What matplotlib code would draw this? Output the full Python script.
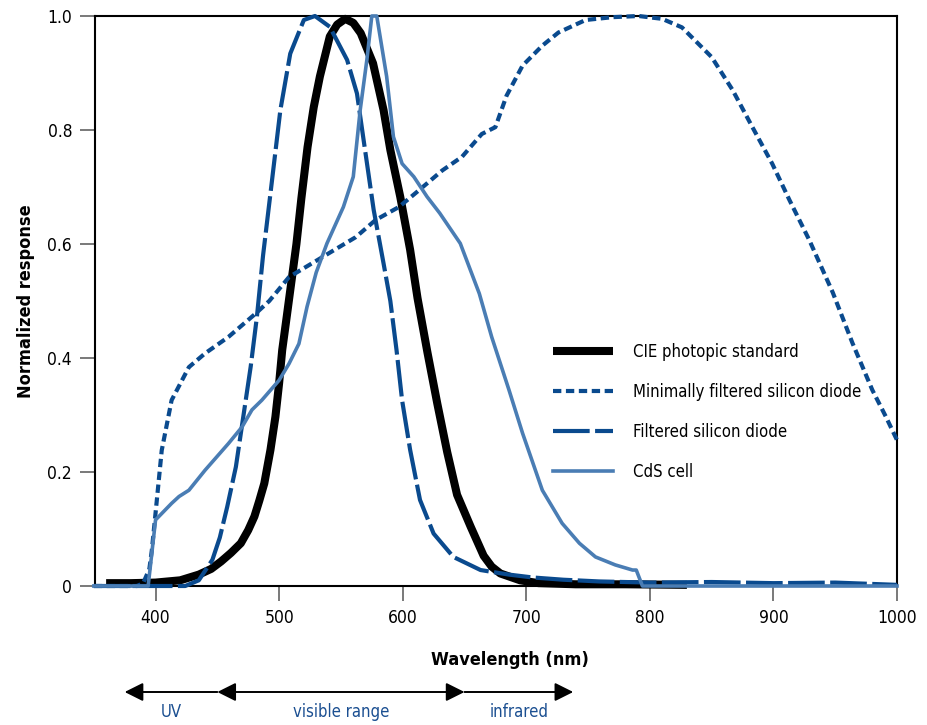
import matplotlib
matplotlib.use("Agg")
from matplotlib import pyplot as plt
from matplotlib import transforms
from matplotlib import font_manager

# CIE photopic standard
wl_cie = [360, 380, 400, 420, 435, 445, 453, 461, 469, 475, 480, 484, 488, 493, 497, 500,
          502.5, 506, 510, 514, 518, 523, 528, 533, 541, 547, 553.5, 560, 566, 576, 584.5,
          590, 598, 606, 612, 620, 628, 636, 644, 655, 665.5, 672, 679, 695, 710, 740,
          780, 830]
cie = [0.005, 0.005, 0.006, 0.01, 0.02, 0.03, 0.043, 0.058, 0.075, 0.098, 0.122, 0.15, 0.18,
       0.239, 0.297, 0.356, 0.414, 0.47, 0.535, 0.6, 0.68, 0.77, 0.84, 0.894, 0.964, 0.985,
       0.995, 0.988, 0.97, 0.917, 0.835, 0.765, 0.683, 0.59, 0.505, 0.41, 0.32, 0.235,
       0.16, 0.104, 0.053, 0.034, 0.022, 0.01, 0.005, 0.003, 0.003, 0.002]

# Minimally filtered silicon diode
wl_min = [350, 385, 390, 395, 397, 400, 405, 413, 427, 440, 459, 481, 492, 508, 535, 562,
          578, 597, 613, 632, 648, 664, 675, 684, 697, 713, 726, 748, 770, 791, 810, 826,
          850, 867, 883, 899, 913, 929, 948, 964, 980, 991, 1000]
min_si = [0.0, 0.0, 0.005, 0.03, 0.063, 0.128, 0.238, 0.326, 0.384, 0.408, 0.437, 0.478,
          0.5, 0.542, 0.577, 0.612, 0.642, 0.665, 0.694, 0.729, 0.753, 0.793, 0.805, 0.86,
          0.913, 0.948, 0.971, 0.993, 0.998, 1.0, 0.995, 0.98, 0.928, 0.87, 0.805, 0.741,
          0.677, 0.607, 0.515, 0.426, 0.344, 0.297, 0.256]

# Filtered silicon diode
wl_filt = [350, 424, 435, 446, 452, 458, 465, 471, 477, 482, 487, 493, 501, 509, 520, 529,
           541, 555, 563, 568, 576.5, 584.5, 590, 595, 599.5, 606, 614, 625, 641, 663, 686,
           705, 730, 759, 800, 850, 900, 950, 1000]
filt_si = [0.0, 0.0, 0.01, 0.046, 0.085, 0.139, 0.209, 0.297, 0.385, 0.472, 0.58, 0.689,
           0.835, 0.934, 0.993, 1.0, 0.981, 0.923, 0.864, 0.788, 0.66, 0.566, 0.5, 0.414,
           0.326, 0.239, 0.151, 0.092, 0.051, 0.028, 0.02, 0.015, 0.011, 0.008, 0.006,
           0.007, 0.005, 0.006, 0.002]

# CdS cell
wl_cds = [350, 394, 400, 413, 419, 427, 440, 459, 470, 478, 486, 500, 508, 516, 522.6, 530,
          538.7, 552, 560, 565.6, 571, 575, 579, 587, 592.5, 599.5, 609, 619.7, 630, 646.6,
          662, 672, 686, 697, 713, 729, 743, 756, 772, 786, 789, 794, 1000]
cds = [0.0, 0.0, 0.116, 0.145, 0.157, 0.168, 0.203, 0.25, 0.279, 0.309, 0.326, 0.361, 0.39,
       0.425, 0.49, 0.55, 0.601, 0.665, 0.718, 0.835, 0.923, 1.0, 1.0, 0.894, 0.788, 0.741,
       0.718, 0.683, 0.654, 0.601, 0.513, 0.437, 0.344, 0.268, 0.168, 0.11, 0.075, 0.051,
       0.037, 0.028, 0.028, 0.0, 0.0]

labels = ["CIE photopic standard", "Minimally filtered silicon diode",
          "Filtered silicon diode", "CdS cell"]

# spectral regions under the x axis
region_names = ["UV", "visible range", "infrared"]
region_edges = [375, 450, 650, 738]

dark_blue = "#0a4a8e"
light_blue = "#4a7db4"
text_blue = "#1b4f91"

# the reference uses a condensed face; take one if there is one installed
condensed = [f for f in font_manager.fontManager.ttflist
             if f.stretch in ("condensed", "semi-condensed") or "Condensed" in f.fname
             or "Narrow" in f.name]
if condensed:
    plt.rcParams['font.family'] = [condensed[0].name, 'DejaVu Sans']
    plt.rcParams['font.stretch'] = 'condensed'
    base = 12
else:
    plt.rcParams['font.family'] = ['DejaVu Sans']
    base = 10.5

fig = plt.figure(figsize=(9.27, 7.25), dpi=100)
ax = fig.add_axes([95 / 927, 139 / 725, 802 / 927, 570 / 725])

ax.plot(wl_cie, cie, color="black", lw=5.8, solid_capstyle="butt", zorder=2,
        clip_on=False, label=labels[0])
ax.plot(wl_min, min_si, color=dark_blue, lw=3, linestyle=(0, (2.0, 1.1)), zorder=3,
        clip_on=False, label=labels[1])
ax.plot(wl_filt, filt_si, color=dark_blue, lw=3, linestyle=(0, (8.8, 1.3)), zorder=3,
        clip_on=False, label=labels[2])
ax.plot(wl_cds, cds, color=light_blue, lw=2.6, zorder=4, clip_on=False, label=labels[3])

ax.set_xlim(351, 1000)
ax.set_ylim(0, 1.0)
ax.set_xticks([400, 500, 600, 700, 800, 900, 1000])
ax.set_yticks([0, 0.2, 0.4, 0.6, 0.8, 1.0])
ax.set_yticklabels(["0", "0.2", "0.4", "0.6", "0.8", "1.0"])
ax.tick_params(axis="both", direction="out", length=10.5, width=1.1, color="#555555",
               labelsize=base + 0.5, pad=6)

for spine in ax.spines.values():
    spine.set_linewidth(1.5)
    spine.set_color("black")

ax.set_xlabel("Wavelength (nm)", fontsize=base + 1, fontweight="bold")
ax.xaxis.set_label_coords((510 - 95) / 802, -(651 - 586) / 570)
ax.set_ylabel("Normalized response", fontsize=base + 1, fontweight="bold")
ax.yaxis.set_label_coords(-(95 - 35) / 802, 0.5)

fs_px = base * 100 / 72
leg = ax.legend(loc="upper left", bbox_to_anchor=(0.571, 0.426), frameon=False,
                fontsize=base, handlelength=60 / fs_px, handletextpad=20 / fs_px,
                labelspacing=1.31, borderpad=0, borderaxespad=0)

# arrows for UV / visible / infrared below the axis
trans = transforms.blended_transform_factory(ax.transData, fig.transFigure)
arrow_y = 33 / 725
label_y = 13 / 725
aprops = dict(color="black", lw=1.4, shrinkA=0, shrinkB=0, mutation_scale=16)
ax.annotate("", xy=(region_edges[0], arrow_y), xytext=(region_edges[1], arrow_y),
            xycoords=trans, textcoords=trans, annotation_clip=False,
            arrowprops=dict(arrowstyle="-|>,head_length=0.7,head_width=0.35", **aprops))
ax.annotate("", xy=(region_edges[1], arrow_y), xytext=(region_edges[2], arrow_y),
            xycoords=trans, textcoords=trans, annotation_clip=False,
            arrowprops=dict(arrowstyle="<|-|>,head_length=0.7,head_width=0.35", **aprops))
ax.annotate("", xy=(region_edges[3], arrow_y), xytext=(region_edges[2], arrow_y),
            xycoords=trans, textcoords=trans, annotation_clip=False,
            arrowprops=dict(arrowstyle="-|>,head_length=0.7,head_width=0.35", **aprops))
for i, name in enumerate(region_names):
    mid = (region_edges[i] + region_edges[i + 1]) / 2
    ax.text(mid, label_y, name, transform=trans, ha="center", va="center",
            fontsize=base, color=text_blue)

fig.savefig("out.png", dpi=100)
